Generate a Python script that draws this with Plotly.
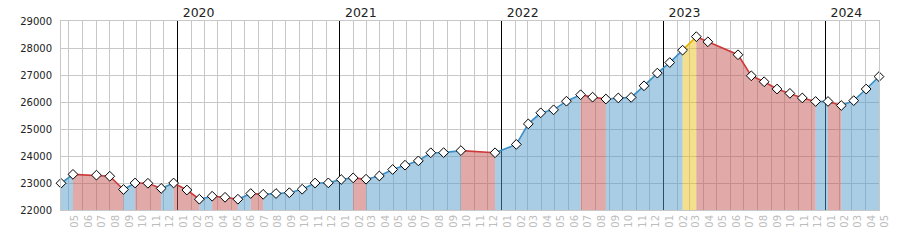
import pandas as pd
import plotly.graph_objects as go

# ---- data ----
dates = [
    "2019-04-13", "2019-05-10", "2019-07-02", "2019-08-01", "2019-09-01", "2019-09-27",
    "2019-10-26", "2019-11-25", "2019-12-23",
    "2020-01-22", "2020-02-19", "2020-03-19", "2020-04-17", "2020-05-16", "2020-06-14",
    "2020-07-12", "2020-08-10", "2020-09-09", "2020-10-08", "2020-11-06", "2020-12-06",
    "2021-01-04", "2021-01-31", "2021-03-01", "2021-03-31", "2021-04-30", "2021-05-28",
    "2021-06-27", "2021-07-25", "2021-08-23", "2021-10-01", "2021-12-17",
    "2022-02-03", "2022-03-02", "2022-03-30", "2022-04-28", "2022-05-27", "2022-06-28",
    "2022-07-25", "2022-08-24", "2022-09-21", "2022-10-20", "2022-11-18", "2022-12-18",
    "2023-01-15", "2023-02-13", "2023-03-16", "2023-04-11", "2023-06-18", "2023-07-18",
    "2023-08-16", "2023-09-14", "2023-10-13", "2023-11-10", "2023-12-10",
    "2024-01-07", "2024-02-06", "2024-03-05", "2024-04-02", "2024-05-01",
]
values = [
    22990, 23320, 23290, 23250, 22760, 23000, 22990, 22800, 23000,
    22740, 22400, 22510, 22470, 22400, 22610, 22580, 22610, 22640, 22770, 23000, 23005,
    23130, 23190, 23140, 23260, 23500, 23660, 23820, 24120, 24125, 24200, 24120,
    24430, 25190, 25600, 25710, 26030, 26270, 26180, 26110, 26150, 26170, 26600, 27070,
    27460, 27920, 28420, 28230, 27750, 26970, 26750, 26480, 26320, 26150, 26020,
    26020, 25870, 26050, 26480, 26940,
]
highlight_start = "2023-02-13"   # segment drawn in yellow
years = [2020, 2021, 2022, 2023, 2024]
year_ticks = [f"{y}-01-01" for y in years]
year_labels = [str(y) for y in years]
month_ticks = pd.date_range("2019-05-01", "2024-05-01", freq="MS")
month_labels = [d.strftime("%m") for d in month_ticks]

# ---- styles ----
STYLE = {
    "up":   ("#3b8fc7", "rgba(83,155,201,0.5)"),
    "down": ("#cc3a3a", "rgba(197,83,83,0.5)"),
    "high": ("#e6b400", "rgba(231,191,29,0.5)"),
}

def seg_kind(i):
    if dates[i] == highlight_start:
        return "high"
    return "up" if values[i + 1] >= values[i] else "down"

# group consecutive segments of same kind into runs
runs = []
for i in range(len(values) - 1):
    k = seg_kind(i)
    if runs and runs[-1][0] == k and runs[-1][2] == i:
        runs[-1][2] = i + 1
    else:
        runs.append([k, i, i + 1])

fig = go.Figure()
for k, a, b in runs:
    lc, fc = STYLE[k]
    fig.add_trace(go.Scatter(
        x=dates[a:b + 1], y=values[a:b + 1], mode="lines",
        line=dict(color=lc, width=1.6), fill="tozeroy", fillcolor=fc,
        hoverinfo="skip", showlegend=False,
    ))

fig.add_trace(go.Scatter(
    x=dates, y=values, mode="markers", cliponaxis=False,
    marker=dict(symbol="diamond", size=7.5, color="white",
                line=dict(color="black", width=1)),
    showlegend=False,
))

# invisible trace to activate the top (year) axis
fig.add_trace(go.Scatter(x=[dates[0], dates[-1]], y=[None, None], xaxis="x2",
                         mode="lines", showlegend=False, hoverinfo="skip"))

fig.update_layout(
    width=900, height=250,
    margin=dict(l=61, r=21, t=21, b=40, pad=0),
    plot_bgcolor="white", paper_bgcolor="white",
    font=dict(family="DejaVu Sans", color="#222222"),
    xaxis=dict(
        type="date", range=[dates[0], dates[-1]], automargin=False,
        tickmode="array", tickvals=month_ticks, ticktext=month_labels,
        tickangle=-90, tickfont=dict(size=10, color="#bdbdbd"),
        ticklabelshift=6,
        showgrid=True, gridcolor="#c8c8c8", gridwidth=1,
        showline=True, linecolor="#c8c8c8", mirror=True,
        ticks="", zeroline=False,
    ),
    xaxis2=dict(
        type="date", range=[dates[0], dates[-1]], overlaying="x", side="top",
        automargin=False,
        tickmode="array", tickvals=year_ticks, ticktext=year_labels,
        tickangle=0, tickfont=dict(size=12.5, color="#222222"),
        ticklabelshift=21, ticklabelstandoff=1,
        showgrid=True, gridcolor="#000000", gridwidth=1,
        showline=False, ticks="", zeroline=False,
    ),
    yaxis=dict(
        range=[22000, 29000], tick0=22000, dtick=1000, tickformat="d",
        automargin=False,
        tickfont=dict(size=10, color="#222222"),
        showgrid=True, gridcolor="#c8c8c8", gridwidth=1,
        showline=True, linecolor="#c8c8c8", mirror=True,
        ticks="", zeroline=False, ticklabelstandoff=6,
    ),
)

fig.write_html("out.html")
